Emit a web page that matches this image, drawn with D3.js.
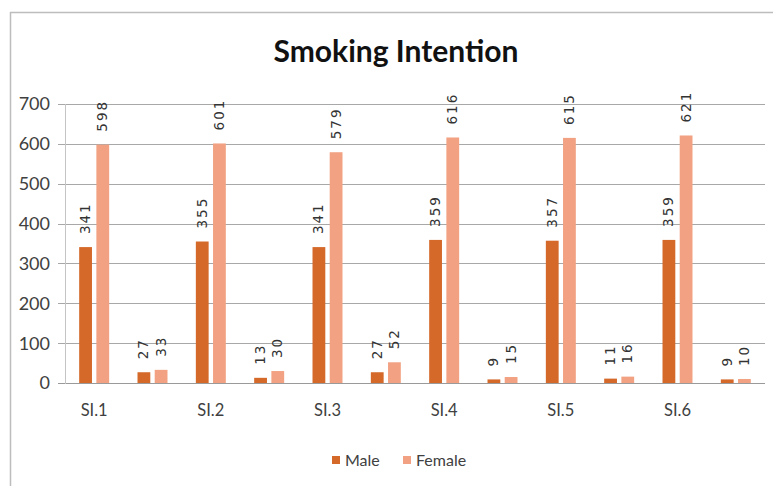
<!DOCTYPE html>
<html>
<head>
<meta charset="utf-8">
<script src="https://cdn.jsdelivr.net/npm/d3@7"></script>
<style>
  html, body { margin: 0; padding: 0; background: #fff; }
  svg { display: block; }
</style>
</head>
<body>
<svg id="chart" width="773" height="486"></svg>
<script>
// Survey responses per item: each item has a "yes" slot and a "no" slot
const slots = ["SI.1", "SI.1b", "SI.2", "SI.2b", "SI.3", "SI.3b", "SI.4", "SI.4b", "SI.5", "SI.5b", "SI.6", "SI.6b"];
const slotLabels = ["SI.1", "", "SI.2", "", "SI.3", "", "SI.4", "", "SI.5", "", "SI.6", ""];
const seriesNames = ["Male", "Female"];
const maleValues = [341, 27, 355, 13, 341, 27, 359, 9, 357, 11, 359, 9];
const femaleValues = [598, 33, 601, 30, 579, 52, 616, 15, 615, 16, 621, 10];
const yTicks = [0, 100, 200, 300, 400, 500, 600, 700];

const colors = { Male: "#D5692A", Female: "#F2A283" };
const textColor = "#404040";

const svg = d3.select("#chart");

// frame
svg.append("line").attr("x1", 10.5).attr("x2", 10.5).attr("y1", 12).attr("y2", 486)
  .attr("stroke", "#bdbdbd").attr("stroke-width", 1.5);
svg.append("line").attr("x1", 10).attr("x2", 773).attr("y1", 12.5).attr("y2", 12.5)
  .attr("stroke", "#bdbdbd").attr("stroke-width", 1.5);

// title
svg.append("text")
  .attr("x", 396).attr("y", 62)
  .attr("text-anchor", "middle")
  .attr("font-family", "Lato, 'Open Sans', sans-serif")
  .attr("font-weight", "bold")
  .attr("font-size", 30)
  .attr("fill", "#111")
  .text("Smoking Intention");

const x = d3.scaleBand().domain(slots).range([65, 765]).paddingInner(0.486).paddingOuter(0.243);
const xs = d3.scaleBand().domain(seriesNames).range([0, x.bandwidth()]).paddingInner(0.256);
const y = d3.scaleLinear().domain([0, 700]).range([383, 104]);

// gridlines
svg.append("g").selectAll("line").data(yTicks).join("line")
  .attr("x1", 58).attr("x2", 765)
  .attr("y1", d => Math.round(y(d)) + 0.5).attr("y2", d => Math.round(y(d)) + 0.5)
  .attr("stroke", d => d === 0 ? "#9a9a9a" : "#a8a8a8")
  .attr("stroke-width", 1);

// y axis line
svg.append("line").attr("x1", 65.5).attr("x2", 65.5)
  .attr("y1", Math.round(y(700))).attr("y2", Math.round(y(0)) + 1)
  .attr("stroke", "#c4c4c4");

// y tick labels
svg.append("g").selectAll("text").data(yTicks).join("text")
  .attr("x", 50).attr("y", d => y(d))
  .attr("dy", "0.36em")
  .attr("text-anchor", "end")
  .attr("font-family", "Lato, sans-serif")
  .attr("font-size", 18)
  .attr("fill", textColor)
  .text(d => d);

// bars
const rows = slots.map((s, i) => ({ slot: s, Male: maleValues[i], Female: femaleValues[i] }));
const groups = svg.append("g").selectAll("g").data(rows).join("g")
  .attr("transform", d => `translate(${x(d.slot)},0)`);

groups.selectAll("rect").data(d => seriesNames.map(k => ({ key: k, value: d[k] }))).join("rect")
  .attr("x", d => xs(d.key))
  .attr("width", xs.bandwidth())
  .attr("y", d => y(d.value))
  .attr("height", d => y(0) - y(d.value))
  .attr("fill", d => colors[d.key]);

// value labels, rotated
groups.selectAll("text").data(d => seriesNames.map(k => ({ key: k, value: d[k] }))).join("text")
  .attr("transform", d => `translate(${xs(d.key) + xs.bandwidth() / 2 + 4.5},${y(d.value) - 13}) rotate(-90)`)
  .attr("text-anchor", "start")
  .attr("font-family", "'DejaVu Sans', sans-serif")
  .attr("font-size", 13.5)
  .attr("letter-spacing", 2)
  .attr("fill", "#333")
  .text(d => d.value);

// category labels
svg.append("g").selectAll("text").data(slots).join("text")
  .attr("x", d => x(d) + x.bandwidth() / 2)
  .attr("y", 416)
  .attr("text-anchor", "middle")
  .attr("font-family", "Lato, sans-serif")
  .attr("font-size", 16.5)
  .attr("fill", textColor)
  .text((d, i) => slotLabels[i]);

// legend
const legendItems = [{ key: "Male", x: 332 }, { key: "Female", x: 403 }];
const lg = svg.append("g").selectAll("g").data(legendItems).join("g")
  .attr("transform", d => `translate(${d.x},460)`);
lg.append("rect").attr("x", 0).attr("y", -4).attr("width", 8).attr("height", 8)
  .attr("fill", d => colors[d.key]);
lg.append("text").attr("x", 13).attr("y", 0).attr("dy", "0.36em")
  .attr("font-family", "Lato, sans-serif")
  .attr("font-size", 16)
  .attr("fill", textColor)
  .text(d => d.key);
</script>
</body>
</html>
